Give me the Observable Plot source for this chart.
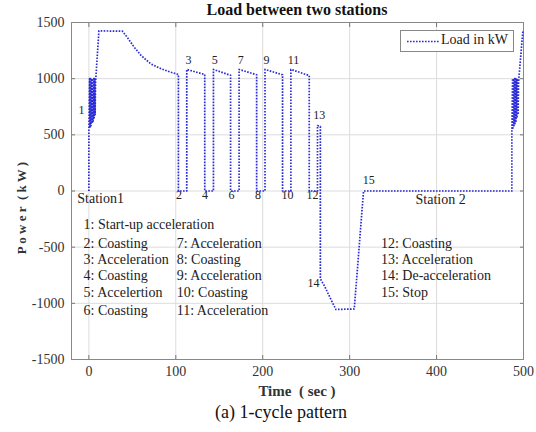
<!DOCTYPE html>
<html>
<head>
<meta charset="utf-8">
<script src="https://cdn.jsdelivr.net/npm/d3@7"></script>
<script src="https://cdn.jsdelivr.net/npm/@observablehq/plot@0.6"></script>
<style>
  body { margin: 0; background: #fff; }
  #wrap { position: relative; width: 536px; height: 432px; font-family: "Liberation Serif", "Times New Roman", serif; color: #222; }
  .ov { position: absolute; white-space: nowrap; }
</style>
</head>
<body>
<div id="wrap"></div>
<script>
// ---- data ----
const timeSec = [0, 0, 0.8, 1.2, 2.0, 2.4, 3.2, 3.6, 4.4, 4.8, 5.6, 6.0, 6.8, 7.2, 7.7,
  11.5, 38.5, 44, 52, 60, 71, 83, 94, 103, 103, 112.6,
  112.6, 133.3, 133.3, 143.3,
  143.3, 163, 163, 172.8,
  172.8, 193, 193, 202.6,
  202.6, 222.8, 222.8, 232.4,
  232.4, 253.5, 253.5, 263,
  263, 266.3, 266.3, 271, 280, 284.2, 305.3, 316, 486.6,
  486.6, 487.4, 487.8, 488.6, 489.0, 489.8, 490.2, 491.0, 491.4, 492.2, 492.6, 493.4, 493.8, 494.3,
  499.3, 500];
const powerKW = [0, 540, 1000, 560, 1000, 580, 1000, 600, 1000, 620, 1000, 650, 1000, 680, 970,
  1425, 1423, 1370, 1281, 1207, 1133, 1088, 1058, 1037, 0, 0,
  1082, 1037, 0, 0,
  1082, 1030, 0, 0,
  1082, 1035, 0, 0,
  1082, 1035, 0, 0,
  1082, 1028, 0, 0,
  583, 575, -782, -845, -990, -1055, -1050, 0, 0,
  540, 1000, 560, 1000, 580, 1000, 600, 1000, 620, 1000, 650, 1000, 680, 970,
  1425, 1425];

const xTicks = [0, 100, 200, 300, 400, 500];
const yTicks = [-1500, -1000, -500, 0, 500, 1000, 1500];

// phase number labels on the curve
const phaseLabels = ["1", "3", "5", "7", "9", "11", "13", "2", "4", "6", "8", "10", "12", "14", "15"];
const phaseT = [-8.4, 114.5, 144.8, 174.8, 204.4, 235.5, 265, 103.7, 133.6, 164, 194.7, 228.6, 257.4, 258.5, 321.9];
const phaseP = [717, 1168, 1168, 1168, 1168, 1168, 679, -40, -40, -40, -40, -40, -40, -821, 100];

const station1 = {name: "Station1", t: -13.4, p: -67};
const station2 = {name: "Station 2", t: 404.6, p: -76};

// explanatory list of phases
const noteText = ["1: Start-up acceleration",
  "2: Coasting", "3: Acceleration", "4: Coasting", "5: Accelertion", "6: Coasting",
  "7: Acceleration", "8: Coasting", "9: Acceleration", "10: Coasting", "11: Acceleration",
  "12: Coasting", "13: Acceleration", "14: De-acceleration", "15: Stop"];
const noteT = [-6.1, -6.1, -6.1, -6.1, -6.1, -6.1, 101, 101, 101, 101, 101, 336, 336, 336, 336];
const noteP = [-301, -470, -613, -752, -901, -1064, -470, -613, -752, -901, -1064, -470, -613, -752, -901];

const titleText = "Load between two stations";
const xLabel = "Time\u00a0\u00a0( sec )";
const yLabel = "P o w e r\u00a0\u00a0( k W )";
const caption = "(a) 1-cycle pattern";
const seriesName = "Load in kW";

// ---- build ----
const line = timeSec.map((t, i) => ({t, p: powerKW[i]}));
const phases = phaseLabels.map((s, i) => ({s, t: phaseT[i], p: phaseP[i]}));
const notes = noteText.map((s, i) => ({s, t: noteT[i], p: noteP[i]}));

const serif = "Liberation Serif, Times New Roman, serif";
const lineColor = "#2a2ad8";
const fmt = d => String(d);
const blank = () => "";

const chart = Plot.plot({
  width: 536,
  height: 432,
  marginTop: 22,
  marginBottom: 73,
  marginLeft: 71,
  marginRight: 13,
  style: {fontFamily: serif, fontSize: "14px", color: "#333", background: "transparent"},
  x: {domain: [-20, 500]},
  y: {domain: [-1500, 1500]},
  marks: [
    Plot.gridX(xTicks, {stroke: "#dcdcdc", strokeOpacity: 1}),
    Plot.gridY(yTicks, {stroke: "#dcdcdc", strokeOpacity: 1}),
    Plot.axisX(xTicks, {anchor: "bottom", tickSize: -4, tickPadding: 11, tickFormat: fmt, label: null, stroke: "#777", fontSize: 14, fontFamily: serif}),
    Plot.axisX(xTicks, {anchor: "top", tickSize: -4, tickFormat: blank, label: null, stroke: "#777"}),
    Plot.axisY(yTicks, {anchor: "left", tickSize: -4, tickPadding: 11, tickFormat: fmt, label: null, stroke: "#777", fontSize: 14, fontFamily: serif}),
    Plot.axisY(yTicks, {anchor: "right", tickSize: -4, tickFormat: blank, label: null, stroke: "#777"}),
    Plot.frame({stroke: "#888"}),
    Plot.line(line, {x: "t", y: "p", stroke: lineColor, strokeWidth: 1.7, strokeDasharray: "1.6,1.4", strokeLinecap: "butt", curve: "linear"}),
    Plot.text(phases, {x: "t", y: "p", text: "s", fontSize: 12, fill: "#222", fontFamily: serif}),
    Plot.text([station1], {x: "t", y: "p", text: "name", textAnchor: "start", fontSize: 14, fill: "#222", fontFamily: serif}),
    Plot.text([station2], {x: "t", y: "p", text: "name", textAnchor: "middle", fontSize: 14, fill: "#222", fontFamily: serif}),
    Plot.text(notes, {x: "t", y: "p", text: "s", textAnchor: "start", fontSize: 14, fill: "#222", fontFamily: serif})
  ]
});

const wrap = document.getElementById("wrap");
chart.style.position = "absolute";
chart.style.left = "0px";
chart.style.top = "0px";
wrap.appendChild(chart);

function overlay(text, css) {
  const d = document.createElement("div");
  d.className = "ov";
  d.textContent = text;
  Object.assign(d.style, css);
  wrap.appendChild(d);
  return d;
}
// title
overlay(titleText, {left: "71px", width: "452px", textAlign: "center", top: "1px", fontSize: "16px", fontWeight: "bold", color: "#111"});
// x label
overlay(xLabel, {left: "71px", width: "452px", textAlign: "center", top: "383px", fontSize: "15px", fontWeight: "bold", color: "#333"});
// y label
overlay(yLabel, {left: "22px", top: "208px", fontSize: "13px", fontWeight: "bold", color: "#333", transform: "translate(-50%,-50%) rotate(-90deg)"});
// caption
overlay(caption, {left: "0px", width: "562px", textAlign: "center", top: "402px", fontSize: "18px", color: "#111"});

// legend box
const leg = document.createElement("div");
leg.className = "ov";
Object.assign(leg.style, {left: "400px", top: "30px", width: "112px", height: "20px", border: "1px solid #888", background: "#fff"});
leg.innerHTML = `<svg width="40" height="20" style="position:absolute;left:5px;top:0"><line x1="1" x2="33" y1="10.5" y2="10.5" stroke="${lineColor}" stroke-width="1.7" stroke-dasharray="1.6,1.4"/></svg>`;
const lt = document.createElement("span");
lt.textContent = seriesName;
Object.assign(lt.style, {position: "absolute", left: "40px", top: "1px", fontSize: "14px", color: "#222"});
leg.appendChild(lt);
wrap.appendChild(leg);
</script>
</body>
</html>
